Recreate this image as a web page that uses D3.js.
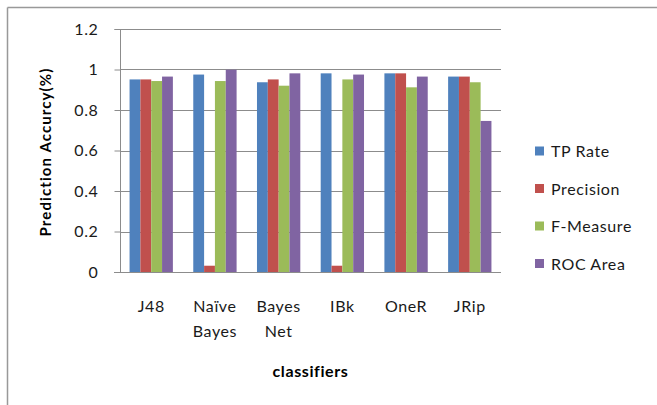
<!DOCTYPE html>
<html><head><meta charset="utf-8">
<script src="https://cdn.jsdelivr.net/npm/d3@7"></script>
<style>body{margin:0;background:#fff}svg{display:block}</style>
</head><body>
<svg id="c" width="657" height="405"></svg>
<script>
const categories = [["J48"],["Naïve","Bayes"],["Bayes","Net"],["IBk"],["OneR"],["JRip"]];
const seriesNames = ["TP Rate","Precision","F-Measure","ROC Area"];
const tpRate    = [0.951,0.975,0.937,0.981,0.981,0.965];
const precision = [0.951,0.031,0.951,0.031,0.981,0.965];
const fMeasure  = [0.943,0.943,0.920,0.951,0.912,0.937];
const rocArea   = [0.965,0.999,0.981,0.975,0.965,0.746];
const yTicks = [0,0.2,0.4,0.6,0.8,1,1.2];
const colors = ["#4F81BD","#C0504D","#9BBB59","#8064A2"];

const series = [tpRate,precision,fMeasure,rocArea];
const svg = d3.select("#c");
const font = "Lato, 'Open Sans', sans-serif";
const fs = 16, ls = 0.6;

// outer frame
svg.append("line").attr("x1",7.5).attr("x2",657).attr("y1",7.5).attr("y2",7.5).attr("stroke","#999").attr("stroke-width",1.5);
svg.append("line").attr("x1",7.5).attr("x2",7.5).attr("y1",7.5).attr("y2",405).attr("stroke","#999").attr("stroke-width",1.5);

const L=120, R=501, T=29, B=272;
const x = d3.scaleBand().domain(d3.range(categories.length)).range([L,R]).paddingInner(0.32).paddingOuter(0.15);
const xs = d3.scaleBand().domain(d3.range(series.length)).range([0,x.bandwidth()]);
const y = d3.scaleLinear().domain([0,1.2]).range([B,T]);

// gridlines
svg.append("g").selectAll("line").data(yTicks.filter(d=>d>0)).join("line")
  .attr("x1",L).attr("x2",R).attr("y1",d=>Math.round(y(d))+0.5).attr("y2",d=>Math.round(y(d))+0.5)
  .attr("stroke","#8c8c8c").attr("stroke-width",1);

// bars
const g = svg.append("g");
series.forEach((vals,si)=>{
  g.selectAll(null).data(vals).join("rect")
    .attr("x",(d,i)=>x(i)+xs(si))
    .attr("width",xs.bandwidth())
    .attr("y",d=>y(d))
    .attr("height",d=>B-y(d))
    .attr("fill",colors[si]);
});

// y axis
const ya = svg.append("g").attr("transform",`translate(${L+0.5},0)`)
  .call(d3.axisLeft(y).tickValues(yTicks).tickFormat(d=>String(d)).tickSize(6).tickPadding(16));
ya.select(".domain").attr("stroke","#8c8c8c").attr("d",`M-6,${T+0.5}H0V${B}`);
ya.selectAll(".tick line").attr("stroke","#8c8c8c");
ya.selectAll(".tick text").attr("font-family",font).attr("font-size",fs).attr("letter-spacing",ls).attr("fill","#1a1a1a");

// x axis
svg.append("line").attr("x1",L-6).attr("x2",R).attr("y1",B+0.5).attr("y2",B+0.5).attr("stroke","#8c8c8c");

// x labels
const xl = svg.append("g");
categories.forEach((lines,i)=>{
  const t = xl.append("text").attr("x",x(i)+x.bandwidth()/2).attr("y",312)
    .attr("text-anchor","middle").attr("font-family",font).attr("font-size",fs).attr("letter-spacing",ls).attr("fill","#1a1a1a");
  lines.forEach((ln,j)=>t.append("tspan").attr("x",x(i)+x.bandwidth()/2).attr("dy",j?25:0).text(ln));
});

// axis titles
svg.append("text").attr("x",(L+R)/2).attr("y",377).attr("text-anchor","middle")
  .attr("font-family",font).attr("font-size",fs).attr("letter-spacing",ls).attr("font-weight","bold").attr("fill","#000").text("classifiers");
svg.append("text").attr("transform",`translate(51,152) rotate(-90)`).attr("text-anchor","middle")
  .attr("font-family",font).attr("font-size",15).attr("letter-spacing",1.1).attr("font-weight","bold").attr("fill","#000").text("Prediction Accurcy(%)");

// legend
const lg = svg.append("g");
seriesNames.forEach((n,i)=>{
  const cy = 151 + i*37.5;
  lg.append("rect").attr("x",535).attr("y",cy-4.5).attr("width",9).attr("height",9).attr("fill",colors[i]);
  lg.append("text").attr("x",551).attr("y",cy+6).attr("font-family",font).attr("font-size",fs).attr("letter-spacing",ls).attr("fill","#1a1a1a").text(n);
});
</script>
</body></html>
